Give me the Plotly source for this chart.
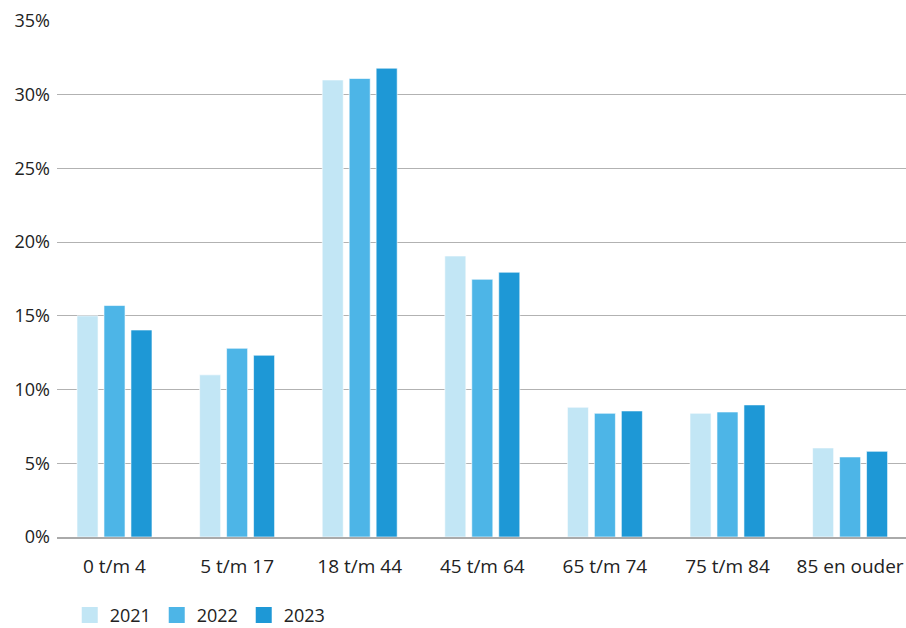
import plotly.graph_objects as go

categories = ["0 t/m 4", "5 t/m 17", "18 t/m 44", "45 t/m 64", "65 t/m 74", "75 t/m 84", "85 en ouder"]
years = ["2021", "2022", "2023"]
values_2021 = [15.0, 11.0, 31.0, 19.06, 8.8, 8.39, 6.04]
values_2022 = [15.7, 12.8, 31.1, 17.48, 8.39, 8.48, 5.43]
values_2023 = [14.04, 12.33, 31.8, 17.96, 8.55, 8.96, 5.81]
colors = ["#c2e6f5", "#4db5e7", "#1e98d6"]
y_ticks = [0, 5, 10, 15, 20, 25, 30, 35]
y_tick_labels = [f"{v}%" for v in y_ticks]

fig = go.Figure()
for name, vals, col in zip(years, [values_2021, values_2022, values_2023], colors):
    fig.add_trace(go.Bar(
        name=name, x=categories, y=vals, showlegend=False, legendgroup=name,
        marker=dict(color=col, line=dict(color="rgba(255,255,255,0.6)", width=1)),
        hoverinfo="x+y+name",
    ))
# Legend entries with large square swatches
for name, col in zip(years, colors):
    fig.add_trace(go.Scatter(
        name=name, x=[None], y=[None], mode="markers", legendgroup=name,
        marker=dict(symbol="square", size=17, color=col),
    ))

font = dict(family="Open Sans, Noto Sans, sans-serif", size=18, color="#222222")
xfont = dict(font, size=19)

fig.update_layout(
    width=906, height=628,
    margin=dict(l=57, r=0, t=21, b=91, autoexpand=False),
    plot_bgcolor="white", paper_bgcolor="white",
    barmode="group", bargap=0.34, bargroupgap=0.22,
    font=font,
    showlegend=True,
    legend=dict(orientation="h", x=0.015, xref="paper", y=-0.116, yanchor="top",
                font=font, traceorder="normal", itemwidth=30, borderwidth=0,
                entrywidth=42, entrywidthmode="pixels"),
    xaxis=dict(range=[-0.469, 6.456], showgrid=False, showline=True,
               linecolor="#aaaaaa", linewidth=1.5, ticks="", tickfont=xfont,
               ticklabelstandoff=11, layer="above traces", automargin=False),
    yaxis=dict(range=[0, 35], tickvals=y_ticks, ticktext=y_tick_labels,
               showgrid=True, gridcolor="rgba(0,0,0,0.3)", gridwidth=1,
               zeroline=False, showline=False, ticks="", tickfont=font,
               ticklabelstandoff=6, layer="above traces", automargin=False),
)

fig.write_html("out.html")
